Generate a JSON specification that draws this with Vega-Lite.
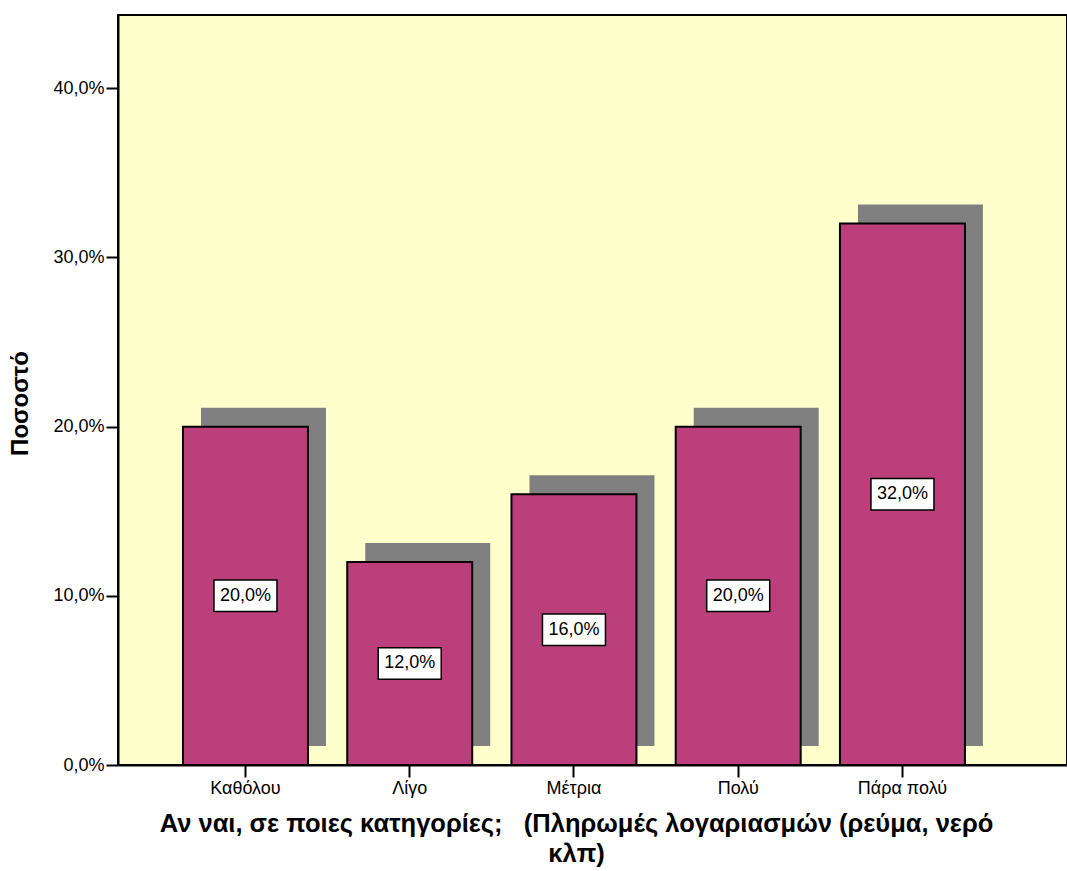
{
  "$schema": "https://vega.github.io/schema/vega-lite/v6.json",
  "width": 949,
  "height": 750,
  "autosize": "none",
  "padding": {"left": 118, "top": 15, "right": 0, "bottom": 106},
  "background": "white",
  "config": {
    "locale": {"number": {"decimal": ",", "thousands": ".", "grouping": [3], "currency": ["", " €"]}},
    "view": {"fill": "#FFFFCC", "stroke": "#000000", "strokeWidth": 2},
    "font": "Liberation Sans",
    "axis": {
      "domainColor": "#000000", "domainWidth": 2, "tickColor": "#000000", "tickWidth": 2, "tickSize": 12,
      "labelFont": "Liberation Sans", "labelFontSize": 18, "labelColor": "#000000",
      "titleFont": "Liberation Sans", "titleFontWeight": "bold", "titleColor": "#000000",
      "grid": false
    }
  },
  "data": {
    "values": [
      {"category": "Καθόλου", "share": 0.20},
      {"category": "Λίγο", "share": 0.12},
      {"category": "Μέτρια", "share": 0.16},
      {"category": "Πολύ", "share": 0.20},
      {"category": "Πάρα πολύ", "share": 0.32}
    ]
  },
  "encoding": {
    "x": {
      "field": "category", "type": "nominal", "sort": null,
      "scale": {"paddingInner": 0.239, "paddingOuter": 0.5085, "align": 0.389},
      "axis": {
        "labelAngle": 0, "labelPadding": 2,
        "title": ["Αν ναι, σε ποιες κατηγορίες;\u00a0\u00a0\u00a0(Πληρωμές λογαριασμών (ρεύμα, νερό", "κλπ)"],
        "titleFontSize": 25.5, "titleX": 458, "titlePadding": 14, "titleLineHeight": 30
      }
    }
  },
  "layer": [
    {
      "encoding": {
        "y": {"field": "share", "type": "quantitative", "scale": {"domain": [0, 0.4433]},
          "axis": {"format": ".1%", "values": [0, 0.1, 0.2, 0.3, 0.4], "title": "Ποσοστό", "titleFontSize": 24, "labelPadding": 2, "titlePadding": 20, "titleY": 388}}
      },
      "layer": [
        {
          "mark": {"type": "bar", "color": "#808080", "xOffset": 18, "yOffset": -19, "y2Offset": -17}
        },
        {
          "mark": {"type": "bar", "color": "#BA3F7A", "stroke": "#000000", "strokeWidth": 2}
        }
      ]
    },
    {
      "encoding": {
        "y": {"field": "share", "type": "quantitative", "scale": {"domain": [0, 0.8866]}, "axis": null}
      },
      "layer": [
        {
          "mark": {"type": "point", "shape": "M-1,-0.5 H1 V0.5 H-1 Z", "size": 3969, "filled": true, "fill": "#FFFFFF", "stroke": "#000000", "strokeWidth": 1.5, "opacity": 1}
        },
        {
          "mark": {"type": "text", "fontSize": 18, "font": "Liberation Sans", "color": "#000000", "baseline": "middle", "align": "center"},
          "encoding": {
            "text": {"field": "share", "type": "quantitative", "format": ".1%"}
          }
        }
      ]
    }
  ],
  "resolve": {"scale": {"y": "independent"}, "axis": {"y": "independent"}}
}
